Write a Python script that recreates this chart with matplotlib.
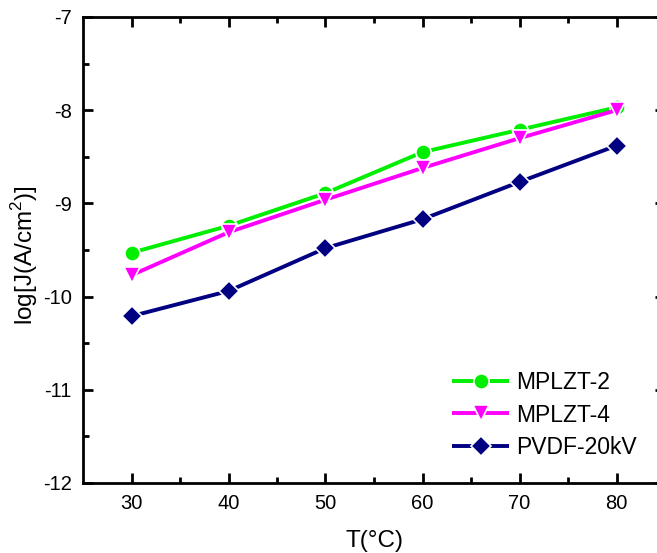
import matplotlib.pyplot as plt

plt.rcParams['font.family'] = ['Liberation Sans', 'DejaVu Sans']

temps = [30, 40, 50, 60, 70, 80]
mplzt2 = [-9.53, -9.24, -8.89, -8.45, -8.21, -7.97]
mplzt4 = [-9.77, -9.31, -8.96, -8.62, -8.30, -8.00]
pvdf = [-10.21, -9.94, -9.48, -9.17, -8.77, -8.38]

series = [
    ("MPLZT-2", mplzt2, "#00ee00", "o", 11),
    ("MPLZT-4", mplzt4, "#ff00ff", "v", 12),
    ("PVDF-20kV", pvdf, "#000080", "D", 10),
]

fig = plt.figure(figsize=(6.57, 5.53), dpi=100)
W, H = 657, 553
# axes box: left 83, top 17, bottom 483, right edge runs past the canvas
ax = fig.add_axes([83 / W, 1 - 483 / H, (665 - 83) / W, (483 - 17) / H])

for name, vals, col, mk, ms in series:
    ax.plot(temps, vals, color=col, lw=2.8, marker=mk, ms=ms,
            mec="white", mew=1.2, label=name, solid_capstyle="butt")

ax.set_xlim(25, 85)
ax.set_ylim(-12, -7)
ax.set_xticks([30, 40, 50, 60, 70, 80])
ax.set_xticks([35, 45, 55, 65, 75], minor=True)
ax.set_yticks([-12, -11, -10, -9, -8, -7])
ax.set_yticks([-11.5, -10.5, -9.5, -8.5, -7.5], minor=True)
ax.set_yticklabels(["-12", "-11", "-10", "-9", "-8", "-7"])

for s in ax.spines.values():
    s.set_linewidth(2)
ax.tick_params(which="major", direction="in", length=7, width=2,
               labelsize=14.5, top=True, right=True, pad=8)
ax.tick_params(which="minor", direction="in", length=4, width=2,
               top=True, right=True)

ax.set_xlabel("T(°C)", fontsize=17.5, labelpad=12)
ax.set_ylabel("log[J(A/cm$^\\mathregular{2}$)]", fontsize=17.5)
ax.yaxis.set_label_coords(-0.074, 0.49)

leg = ax.legend(loc="center left", bbox_to_anchor=(452 / W, 1 - 415 / H),
                bbox_transform=fig.transFigure,
                frameon=False, fontsize=16.5, handlelength=2.5,
                handletextpad=0.3, labelspacing=0.4, borderpad=0,
                borderaxespad=0)

fig.savefig("out.png", dpi=100)
